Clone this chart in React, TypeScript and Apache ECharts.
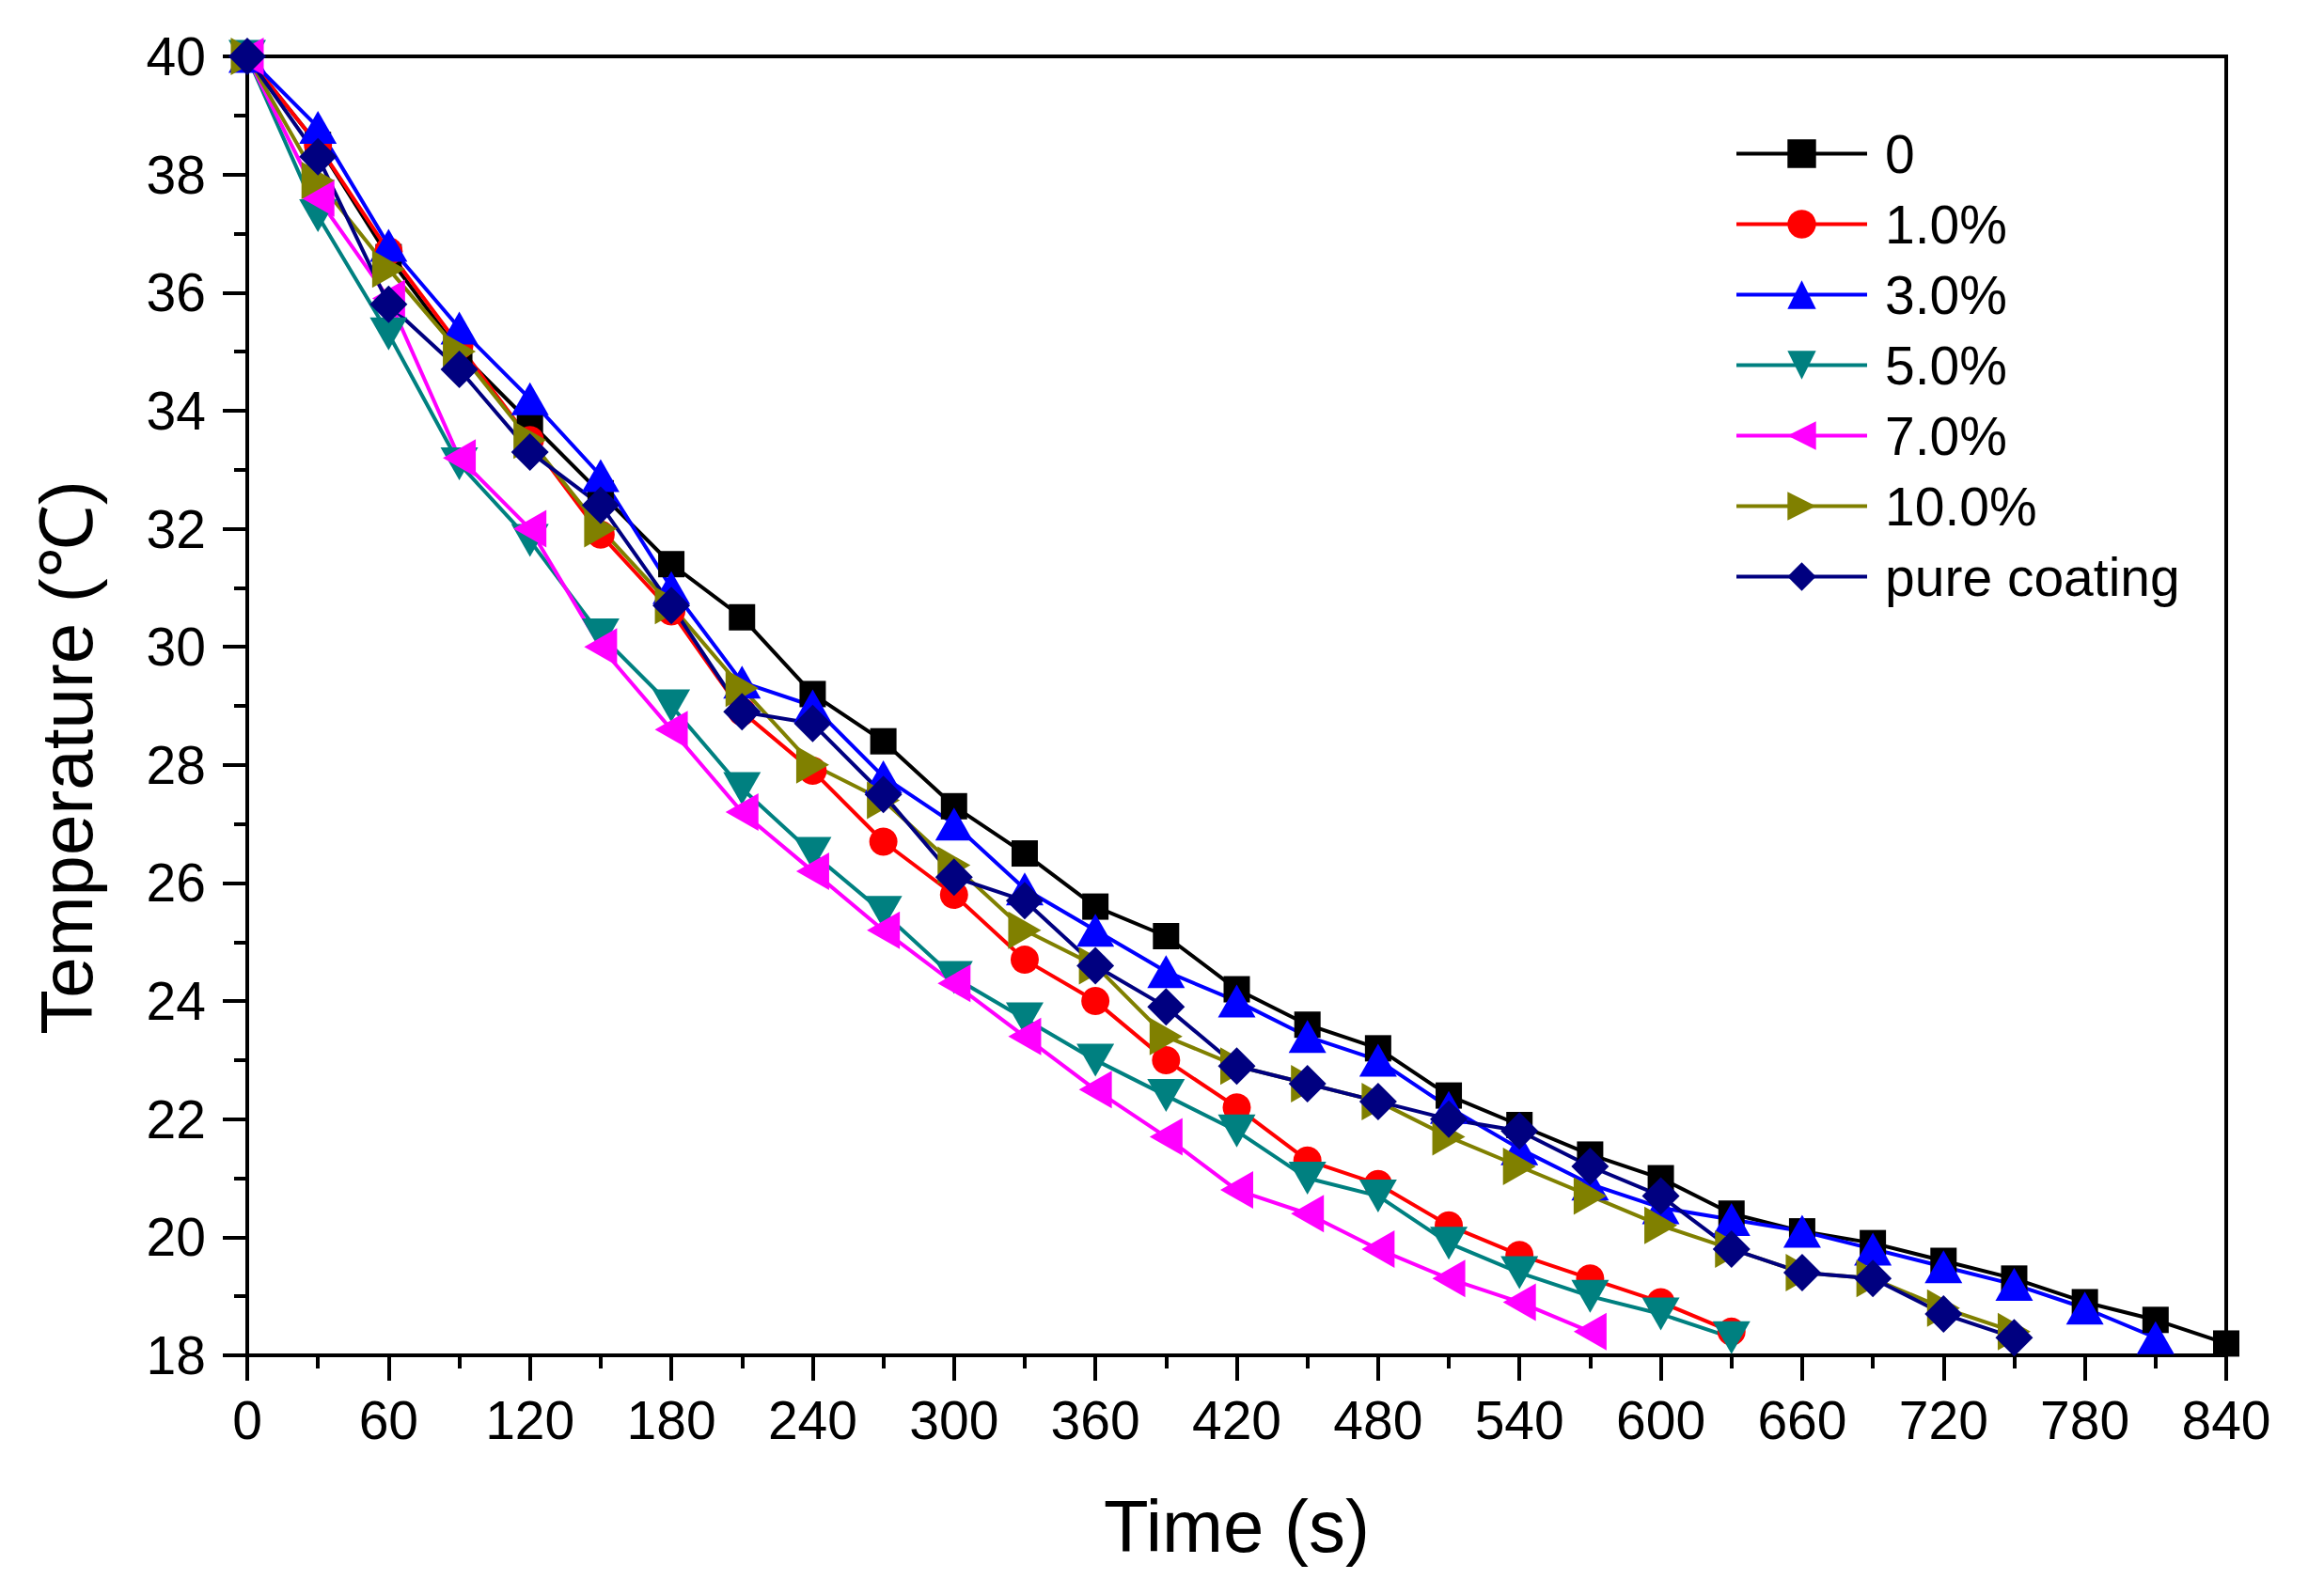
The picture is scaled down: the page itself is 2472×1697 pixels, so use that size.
import React, { useEffect, useRef } from "react";
import * as echarts from "echarts";

const times = [0, 30, 60, 90, 120, 150, 180, 210, 240, 270, 300, 330, 360, 390, 420, 450, 480, 510, 540, 570, 600, 630, 660, 690, 720, 750, 780, 810, 840];

const seriesNames = ["0", "1.0%", "3.0%", "5.0%", "7.0%", "10.0%", "pure coating"];

const temp0 = [40, 38.5, 36.6, 35.0, 33.8, 32.6, 31.4, 30.5, 29.2, 28.4, 27.3, 26.5, 25.6, 25.1, 24.2, 23.6, 23.2, 22.4, 21.9, 21.4, 21.0, 20.4, 20.1, 19.9, 19.6, 19.3, 18.9, 18.6, 18.2];
const temp1 = [40, 38.5, 36.7, 35.1, 33.5, 31.9, 30.6, 28.9, 27.9, 26.7, 25.8, 24.7, 24.0, 23.0, 22.2, 21.3, 20.9, 20.2, 19.7, 19.3, 18.9, 18.4];
const temp3 = [40, 38.8, 36.8, 35.4, 34.2, 32.9, 31.0, 29.4, 29.0, 27.8, 27.0, 25.9, 25.2, 24.5, 24.0, 23.4, 23.0, 22.2, 21.5, 20.9, 20.5, 20.3, 20.1, 19.8, 19.5, 19.2, 18.8, 18.3];
const temp5 = [40, 37.3, 35.3, 33.1, 31.8, 30.2, 29.0, 27.6, 26.5, 25.5, 24.4, 23.7, 23.0, 22.4, 21.8, 21.0, 20.7, 19.9, 19.4, 19.0, 18.7, 18.3];
const temp7 = [40, 37.6, 35.9, 33.2, 32.0, 30.0, 28.6, 27.2, 26.2, 25.2, 24.3, 23.4, 22.5, 21.7, 20.8, 20.4, 19.8, 19.3, 18.9, 18.4];
const temp10 = [40, 37.9, 36.4, 35.0, 33.5, 32.0, 30.7, 29.3, 28.0, 27.4, 26.3, 25.2, 24.6, 23.4, 22.9, 22.6, 22.3, 21.7, 21.2, 20.7, 20.2, 19.8, 19.4, 19.3, 18.8, 18.4];
const tempPure = [40, 38.3, 35.8, 34.7, 33.3, 32.4, 30.7, 28.9, 28.7, 27.5, 26.1, 25.7, 24.6, 23.9, 22.9, 22.6, 22.3, 22.0, 21.8, 21.2, 20.7, 19.8, 19.4, 19.3, 18.7, 18.3];

const seriesValues = [temp0, temp1, temp3, temp5, temp7, temp10, tempPure];
const seriesColors = ["#000000", "#ff0000", "#0000ff", "#008080", "#ff00ff", "#808000", "#000080"];
const seriesSymbols = ["rect", "circle", "triangle", "triangle", "triangle", "triangle", "diamond"];
const seriesRotate = [0, 0, 0, 180, 90, -90, 0];
const seriesSizes: (number | number[])[] = [28, 30, [40, 35], [40, 35], [40, 35], [40, 35], 40];

const FONT = "'Liberation Sans', Arial, Helvetica, sans-serif";

export default function App() {
  const ref = useRef<HTMLDivElement>(null);
  useEffect(() => {
    if (!ref.current) return;
    document.body.style.margin = "0";
    const chart = echarts.init(ref.current, undefined, { renderer: "svg" });
    const series = seriesNames.map((name, i) => ({
      name,
      type: "line",
      data: seriesValues[i].map((v, j) => [times[j], v]),
      symbol: seriesSymbols[i],
      symbolSize: seriesSizes[i],
      symbolRotate: seriesRotate[i],
      showAllSymbol: true,
      lineStyle: { color: seriesColors[i], width: 4 },
      itemStyle: { color: seriesColors[i] },
      emphasis: { disabled: true },
    }));
    chart.setOption({
      animation: false,
      backgroundColor: "#ffffff",
      textStyle: { fontFamily: FONT },
      grid: {
        left: 263,
        right: 104,
        top: 60,
        bottom: 255,
        show: true,
        borderColor: "#000",
        borderWidth: 4,
        backgroundColor: "transparent",
      },
      legend: {
        orient: "vertical",
        left: 1845,
        top: 135,
        padding: 0,
        itemWidth: 139,
        itemHeight: 38,
        itemGap: 18,
        lineStyle: { width: 4 },
        textStyle: { fontSize: 57, color: "#000", fontFamily: FONT, padding: [0, 0, 0, 14] },
        data: seriesNames,
      },
      xAxis: {
        type: "value",
        min: 0,
        max: 840,
        interval: 60,
        name: "Time (s)",
        nameLocation: "middle",
        nameGap: 143,
        nameTextStyle: { fontSize: 78, color: "#000", fontFamily: FONT },
        axisLine: { show: true, onZero: false, lineStyle: { color: "#000", width: 4 } },
        axisTick: { show: true, inside: false, length: 27, lineStyle: { color: "#000", width: 4 } },
        minorTick: { show: true, splitNumber: 2, length: 14, lineStyle: { color: "#000", width: 4 } },
        axisLabel: { fontSize: 57, color: "#000", margin: 40, fontFamily: FONT },
        splitLine: { show: false },
        minorSplitLine: { show: false },
      },
      yAxis: {
        type: "value",
        min: 18,
        max: 40,
        interval: 2,
        axisLine: { show: true, onZero: false, lineStyle: { color: "#000", width: 4 } },
        axisTick: { show: true, inside: false, length: 26, lineStyle: { color: "#000", width: 4 } },
        minorTick: { show: true, splitNumber: 2, length: 14, lineStyle: { color: "#000", width: 4 } },
        axisLabel: { fontSize: 57, color: "#000", margin: 44, fontFamily: FONT },
        splitLine: { show: false },
        minorSplitLine: { show: false },
      },
      graphic: [
        {
          type: "text",
          x: 71,
          y: 806,
          rotation: Math.PI / 2,
          style: {
            text: "Temperature (℃)",
            fontSize: 78,
            fontFamily: FONT,
            fill: "#000",
            textAlign: "center",
            textVerticalAlign: "middle",
          },
        },
      ],
      series,
    });
    return () => chart.dispose();
  }, []);
  return (
    <div
      ref={ref}
      style={{ position: "fixed", left: 0, top: 0, width: 2472, height: 1697, background: "#fff" }}
    />
  );
}
